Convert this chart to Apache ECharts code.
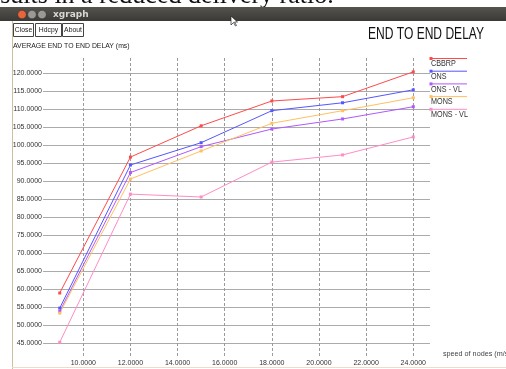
<!DOCTYPE html>
<html><head><meta charset="utf-8">
<script src="https://cdn.jsdelivr.net/npm/echarts@6/dist/echarts.min.js"></script>
<style>html,body{margin:0;padding:0;background:#fff;}#c{width:506px;height:369px;}</style>
</head><body><div id="c"></div>
<script>
// ---- data ----
const speeds = [9, 12, 15, 18, 21, 24];
const seriesNames = ['CBBRP', 'ONS', 'ONS - VL', 'MONS', 'MONS - VL'];
const cbbrp  = [58.9, 96.7, 105.4, 112.3, 113.5, 120.4];
const ons    = [54.7, 94.5, 100.7, 109.6, 111.8, 115.4];
const onsVl  = [53.8, 92.4, 99.6, 104.5, 107.3, 110.7];
const mons   = [53.3, 90.6, 98.4, 106.1, 109.6, 113.2];
const monsVl = [45.2, 86.4, 85.6, 95.3, 97.3, 102.3];
const chartTitle = 'END TO END DELAY';
const yTitle = 'AVERAGE END TO END DELAY (ms)';
const xTitle = 'speed of nodes (m/s)';
const windowTitle = 'xgraph';
const buttons = ['Close', 'Hdcpy', 'About'];
const paperText = 'results in a reduced delivery ratio.';

// ---- styles ----
const colors = ['#ff4a4a', '#5656ff', '#b058ff', '#ffc060', '#ff8cc6'];
const allData = [cbbrp, ons, onsVl, mons, monsVl];
const SANS = '"Liberation Sans", Arial, sans-serif';

const chart = echarts.init(document.getElementById('c'), null, {renderer: 'canvas'});

const series = seriesNames.map((n, i) => ({
  name: n, type: 'line',
  data: speeds.map((s, j) => [s, allData[i][j]]),
  symbol: 'rect', symbolSize: 3, showSymbol: true,
  lineStyle: {width: 1, color: colors[i]},
  itemStyle: {color: colors[i]},
  silent: true, animation: false, z: 3
}));

const graphics = [];
// paper text above screenshot
graphics.push({type: 'text', x: -20, y: -17, z: 1, silent: true,
  style: {text: paperText, font: '26px "Liberation Serif", serif', fill: '#111', verticalAlign: 'top'}});
// title bar
graphics.push({type: 'rect', z: 10, shape: {x: 0, y: 7, width: 506, height: 14}, silent: true,
  style: {fill: new echarts.graphic.LinearGradient(0, 0, 0, 1, [{offset: 0, color: '#55544f'}, {offset: 1, color: '#3a3935'}])}});
[['#e8643a', 22], ['#9a9994', 32], ['#9a9994', 42]].forEach(c => {
  graphics.push({type: 'circle', z: 11, shape: {cx: c[1], cy: 14.5, r: 4.3}, silent: true,
    style: {fill: c[0], stroke: '#2a2a28', lineWidth: 0.5}});
});
graphics.push({type: 'text', z: 11, x: 53, y: 14.5, silent: true,
  style: {text: windowTitle, font: 'bold 9px "DejaVu Sans", sans-serif', fill: '#d8d8d4', verticalAlign: 'middle'}});
// mouse cursor
graphics.push({type: 'polygon', z: 12, silent: true,
  shape: {points: [[231, 16], [231, 25], [233.5, 22.5], [235.5, 26], [236.5, 25.5], [234.5, 22], [237.5, 22]]},
  style: {fill: '#fff', stroke: '#222', lineWidth: 0.7}});
// window frame lines
graphics.push({type: 'line', shape: {x1: 12.5, y1: 21, x2: 12.5, y2: 369}, silent: true,
  style: {stroke: '#cdbf9f', lineWidth: 1}});
graphics.push({type: 'line', shape: {x1: 12, y1: 367.5, x2: 506, y2: 367.5}, silent: true,
  style: {stroke: '#f0dcc6', lineWidth: 1}});
// buttons
const btnX = [[13, 20], [35, 26], [62, 21]];
buttons.forEach((b, i) => {
  graphics.push({type: 'rect', shape: {x: btnX[i][0] + 0.5, y: 23.5, width: btnX[i][1], height: 13}, silent: true,
    style: {fill: '#fff', stroke: '#444', lineWidth: 1}});
  graphics.push({type: 'text', x: btnX[i][0] + btnX[i][1] / 2 + 0.5, y: 30, scaleX: 0.85, silent: true,
    style: {text: b, font: '8px ' + SANS, fill: '#222', align: 'center', verticalAlign: 'middle'}});
});
// titles
graphics.push({type: 'text', x: 368, y: 34.5, scaleX: 0.73, silent: true,
  style: {text: chartTitle, font: '16.5px ' + SANS, fill: '#111', verticalAlign: 'middle'}});
graphics.push({type: 'text', x: 13, y: 45.5, scaleX: 0.86, silent: true,
  style: {text: yTitle, font: '8px ' + SANS, fill: '#222', verticalAlign: 'middle'}});
graphics.push({type: 'text', x: 443, y: 354, scaleX: 0.9, silent: true,
  style: {text: xTitle, font: '8px ' + SANS, fill: '#444', verticalAlign: 'middle'}});
// legend
seriesNames.forEach((n, i) => {
  const y = 58.5 + 12.7 * i;
  graphics.push({type: 'line', shape: {x1: 430, y1: y, x2: 467, y2: y}, silent: true,
    style: {stroke: colors[i], lineWidth: 1}});
  graphics.push({type: 'rect', shape: {x: 429.5, y: y - 1.5, width: 3, height: 3}, silent: true,
    style: {fill: colors[i]}});
  graphics.push({type: 'text', x: 431, y: y + 5.5, scaleX: 0.85, silent: true,
    style: {text: n, font: '8.5px ' + SANS, fill: '#333', verticalAlign: 'middle'}});
});

const fmt = v => v.toFixed(4);

chart.setOption({
  animation: false,
  backgroundColor: '#fff',
  grid: {left: 43, right: 76, top: 58, bottom: 11, containLabel: false},
  xAxis: {
    type: 'value', min: 8.29, max: 24.71, splitNumber: 8,
    axisLine: {show: false}, axisTick: {show: false},
    axisLabel: {show: true, formatter: fmt, showMinLabel: false, showMaxLabel: false,
      fontFamily: SANS, fontSize: 7, color: '#333', margin: 2},
    splitLine: {show: true, showMinLine: false, showMaxLine: false,
      lineStyle: {color: '#9a9a9a', width: 1, type: [3, 2]}}
  },
  yAxis: {
    type: 'value', min: 40.83, max: 124.25, splitNumber: 16,
    axisLine: {show: false}, axisTick: {show: false},
    axisLabel: {show: true, formatter: fmt, showMinLabel: false, showMaxLabel: false,
      fontFamily: SANS, fontSize: 7, color: '#333', margin: 1},
    splitLine: {show: true, showMinLine: false, showMaxLine: false,
      lineStyle: {color: '#ababab', width: 1}}
  },
  series: series,
  graphic: graphics
});
</script></body></html>
